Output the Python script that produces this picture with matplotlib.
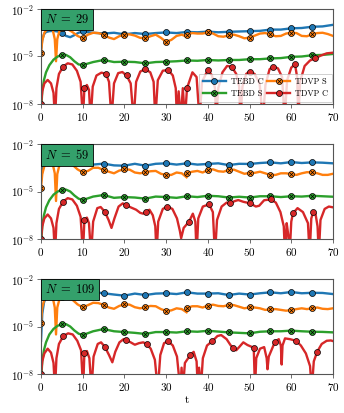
import matplotlib
matplotlib.use("Agg")
import matplotlib.pyplot as plt
import matplotlib.transforms as mtransforms
from matplotlib.lines import Line2D
from matplotlib.ticker import NullLocator
import numpy as np

plt.rcParams["font.family"] = "serif"
plt.rcParams["font.serif"] = ["cmr10"]
plt.rcParams["mathtext.fontset"] = "cm"
plt.rcParams["axes.formatter.use_mathtext"] = True

sizes = [29, 59, 109]

# log10 of the error
t_smooth = [0, 0.3, 0.7, 1.2, 2, 3, 4, 5, 6, 7, 8, 9, 10,
            12.5, 15, 17.5, 20, 22.5, 25, 27.5, 30, 32.5, 35, 37.5, 40,
            42.5, 45, 47.5, 50, 52.5, 55, 57.5, 60, 62.5, 65, 67.5, 70]

tebd_c_29 = [-4.6, -3.95, -3.6, -3.45, -3.4, -3.38, -3.42, -3.5, -3.7, -3.78, -3.65, -3.5, -3.42,
             -3.5, -3.55, -3.5, -3.6, -3.52, -3.58, -3.52, -3.48, -3.52, -3.45, -3.47, -3.43,
             -3.47, -3.44, -3.42, -3.4, -3.38, -3.3, -3.3, -3.22, -3.2, -3.12, -3.1, -3.0]
tebd_c_59 = [-4.3, -3.7, -3.35, -3.15, -3.05, -3.0, -3.05, -3.1, -3.05, -3.2, -3.3, -3.2, -3.12,
             -3.3, -3.24, -3.35, -3.37, -3.25, -3.37, -3.25, -3.22, -3.3, -3.22, -3.3, -3.26,
             -3.22, -3.33, -3.25, -3.26, -3.2, -3.16, -3.22, -3.14, -3.2, -3.16, -3.18, -3.22]
tebd_c_109 = [-5.9, -4.2, -3.5, -3.1, -2.9, -2.85, -2.85, -2.85, -2.9, -2.95, -2.9, -2.85, -2.85,
              -2.82, -2.9, -2.98, -3.05, -2.92, -3.01, -2.92, -2.9, -2.95, -2.84, -2.92, -2.92,
              -2.9, -3.01, -2.92, -2.98, -2.9, -2.84, -2.9, -2.82, -2.9, -2.87, -2.88, -2.95]

tebd_s_29 = [-8.5, -7.2, -6.5, -6.0, -5.55, -5.2, -5.0, -4.9, -4.9, -5.05, -5.3, -5.5, -5.54,
             -5.35, -5.22, -5.35, -5.33, -5.35, -5.43, -5.35, -5.33, -5.3, -5.25, -5.27, -5.22,
             -5.25, -5.22, -5.22, -5.17, -5.17, -5.12, -5.1, -5.02, -5.0, -4.92, -4.9, -4.84]
tebd_s_59 = [-8.5, -7.2, -6.5, -6.0, -5.55, -5.2, -5.0, -4.9, -4.88, -5.0, -5.25, -5.45, -5.54,
             -5.32, -5.22, -5.4, -5.35, -5.38, -5.45, -5.32, -5.35, -5.4, -5.3, -5.35, -5.27,
             -5.3, -5.38, -5.33, -5.38, -5.3, -5.3, -5.35, -5.3, -5.32, -5.27, -5.3, -5.33]
tebd_s_109 = [-8.5, -7.2, -6.5, -6.0, -5.5, -5.15, -4.95, -4.86, -4.85, -5.0, -5.25, -5.45, -5.54,
              -5.3, -5.16, -5.3, -5.35, -5.4, -5.47, -5.35, -5.35, -5.38, -5.3, -5.33, -5.27,
              -5.32, -5.37, -5.4, -5.43, -5.33, -5.3, -5.3, -5.26, -5.3, -5.33, -5.34, -5.37]

t_tdvp_s = [0, 0.3, 0.8, 1.5, 2.2, 2.8, 3.3, 3.6, 3.9, 4.4,
            5, 6.25, 7.5, 8.75, 10, 11.25, 12.5, 13.75, 15, 16.25, 17.5, 18.75,
            20, 21.25, 22.5, 23.75, 25, 26.25, 27.5, 28.75, 30, 31.25, 32.5, 33.75,
            34.9, 34.95,
            35, 36.25, 37.5, 38.75, 40, 41.25, 42.5, 43.75, 45, 46.25, 47.5, 48.75,
            50, 51.25, 52.5, 53.75, 55, 56.25, 57.5, 58.75, 60, 61.25, 62.5, 63.75,
            65, 66.25, 67.5, 68.75, 70]
nan = float("nan")
tdvp_s_29 = [-4.8, -4.0, -3.5, -3.25, -3.15, -3.3, -3.9, -5.3, -3.9, -3.4,
             -3.22, -3.25, -3.45, -3.7, -3.85, -3.62, -3.5, -3.52, -3.62, -3.8, -3.9, -3.72,
             -3.62, -3.6, -3.68, -3.82, -3.85, -3.72, -3.62, -3.82, -4.08, -3.95, -3.7, -3.62,
             -3.75, nan,
             -3.62, -3.52, -3.55, -3.55, -3.48, -3.55, -3.72, -3.75, -3.66, -3.62, -3.72, -3.85,
             -3.81, -3.68, -3.55, -3.52, -3.6, -3.72, -3.7, -3.55, -3.5, -3.52, -3.7, -3.72,
             -3.6, -3.52, -3.5, -3.58, -3.7]
tdvp_s_59 = [-4.76, -3.9, -3.4, -3.2, -3.1, -3.25, -3.85, -5.6, -3.9, -3.35,
             -3.15, -3.1, -3.3, -3.6, -3.79, -3.7, -3.5, -3.5, -3.64, -3.75, -3.85, -3.68,
             -3.6, -3.62, -3.8, -3.85, -3.79, -3.72, -3.7, -3.88, -3.96, -3.95, -3.8, -3.85,
             -4.1, nan,
             -3.85, -3.75, -3.7, -3.8, -3.64, -3.6, -3.72, -3.75, -3.64, -3.62, -3.75, -3.88,
             -3.83, -3.82, -3.75, -3.85, -3.96, -3.95, -3.85, -3.85, -3.9, -3.95, -3.85, -3.78,
             -3.79, -3.85, -3.95, -3.95, -3.88]
tdvp_s_109 = [-4.76, -3.8, -3.3, -3.1, -3.0, -3.15, -3.8, -5.5, -3.8, -3.3,
              -3.11, -3.1, -3.3, -3.6, -3.79, -3.65, -3.5, -3.52, -3.64, -3.8, -3.88, -3.7,
              -3.6, -3.62, -3.78, -3.85, -3.79, -3.7, -3.72, -3.9, -4.02, -3.98, -3.85, -3.9,
              -4.1, nan,
              -3.83, -3.72, -3.72, -3.8, -3.68, -3.62, -3.7, -3.72, -3.64, -3.65, -3.75, -3.85,
              -3.79, -3.8, -3.85, -3.95, -3.92, -3.9, -3.95, -4.0, -3.96, -3.9, -3.85, -3.9,
              -3.85, -3.8, -3.88, -3.9, -3.85]

# TDVP C: (t, log10 error); -9 means the curve drops below the axis
tdvp_c_29 = [(0, -8.0), (0.3, -7.2), (0.8, -6.7), (1.6, -6.48), (2.4, -6.7), (3.0, -7.3),
             (3.35, -9), (3.7, -7.0), (4.3, -6.1), (5.3, -5.64), (6.4, -5.43), (7.5, -5.5),
             (8.6, -5.9), (9.5, -6.6), (10.05, -9), (10.4, -7.0), (11.0, -6.8), (11.5, -7.1),
             (11.9, -9), (12.4, -6.9), (13.3, -6.2), (14.5, -6.02), (15.6, -6.1), (16.3, -6.6),
             (16.9, -9), (17.5, -6.7), (18.5, -6.05), (19.5, -5.98), (20.5, -6.2), (21.5, -6.7),
             (22.2, -9), (22.8, -6.6), (23.8, -5.95), (25.0, -5.8), (26.2, -6.0), (27.0, -6.6),
             (27.4, -9), (28.0, -6.5), (29.2, -5.9), (30.5, -5.85), (31.6, -6.2), (32.3, -7.0),
             (32.6, -9), (33.0, -7.2), (33.5, -9), (34.0, -7.0), (34.5, -9), (35.0, -7.0),
             (36.3, -6.0), (37.3, -6.3), (38.0, -9), (38.6, -6.6), (40.0, -5.85), (41.0, -6.2),
             (41.7, -7.0), (42.0, -9), (42.5, -7.0), (43.5, -6.0), (44.6, -5.6), (45.7, -5.64),
             (46.8, -6.1), (47.5, -6.9), (47.8, -9), (48.3, -6.9), (49.2, -6.1), (50.0, -5.95),
             (51.2, -6.1), (52.4, -6.7), (53.2, -9), (53.8, -6.8), (54.8, -5.8), (55.7, -5.64),
             (56.8, -5.75), (57.8, -6.3), (58.4, -9), (59.0, -6.5), (60.0, -5.7), (60.9, -5.5),
             (61.4, -6.3), (61.7, -9), (62.1, -6.6), (63.2, -5.6), (64.5, -5.25), (65.7, -5.12),
             (67.0, -4.95), (68.5, -4.8), (70.0, -4.76)]
tdvp_c_59 = [(0, -8.0), (0.3, -7.2), (0.8, -6.7), (1.6, -6.45), (2.4, -6.7), (3.0, -7.3),
             (3.35, -9), (3.7, -7.0), (4.3, -6.1), (5.3, -5.64), (6.4, -5.42), (7.5, -5.5),
             (8.6, -5.9), (9.5, -6.6), (10.05, -9), (10.4, -6.8), (11.0, -6.65), (11.5, -7.0),
             (12.0, -9), (12.5, -6.9), (13.5, -6.05), (14.3, -5.98), (15.3, -6.28), (16.2, -6.8),
             (16.9, -7.3), (17.6, -6.7), (18.6, -5.95), (19.6, -5.75), (20.3, -5.85), (21.5, -6.0),
             (22.8, -6.15), (23.8, -6.35), (24.5, -6.4), (25.1, -6.3), (26.0, -6.15), (26.8, -6.5),
             (27.4, -7.2), (27.7, -9), (28.1, -6.9), (29.2, -6.1), (30.3, -5.96), (31.5, -6.1),
             (32.6, -6.7), (33.3, -7.5), (33.6, -7.95), (34.2, -7.3), (35.5, -6.9), (36.4, -6.4),
             (37.0, -6.9), (37.3, -9), (37.7, -6.7), (38.8, -5.95), (40.3, -5.81), (41.2, -6.3),
             (41.7, -9), (42.2, -6.8), (43.3, -5.95), (44.5, -5.7), (45.2, -5.75), (46.5, -5.6),
             (47.3, -5.54), (48.5, -5.65), (50.2, -5.75), (51.5, -5.95), (52.3, -5.9), (53.5, -5.55),
             (55.1, -5.5), (56.3, -5.7), (57.4, -6.3), (58.2, -7.2), (58.5, -9), (58.9, -7.0),
             (59.3, -7.8), (59.6, -9), (60.0, -6.9), (60.4, -6.38), (61.5, -6.05), (62.8, -6.3),
             (64.0, -7.0), (64.4, -9), (64.8, -6.7), (65.3, -6.28), (65.8, -6.4), (66.3, -7.2),
             (66.6, -9), (67.0, -6.8), (68.0, -6.1), (69.0, -5.95), (70.0, -6.0)]
tdvp_c_109 = [(0, -8.0), (0.3, -7.2), (0.8, -6.7), (1.6, -6.4), (2.4, -6.65), (3.0, -7.3),
              (3.35, -9), (3.7, -7.0), (4.3, -6.1), (5.35, -5.6), (6.5, -5.43), (7.6, -5.5),
              (8.7, -5.9), (9.6, -6.5), (10.1, -9), (10.4, -6.66), (11.0, -6.55), (11.6, -7.0),
              (12.1, -9), (12.6, -6.9), (13.6, -6.1), (14.4, -6.0), (15.3, -6.28), (16.3, -6.8),
              (17.1, -7.26), (17.8, -6.6), (18.8, -6.0), (19.8, -5.8), (20.3, -5.85), (21.5, -6.0),
              (22.5, -6.15), (23.5, -6.05), (24.5, -6.0), (25.3, -6.1), (26.3, -6.4), (27.3, -7.1),
              (28.0, -9), (28.6, -6.8), (29.5, -6.05), (30.5, -5.93), (31.6, -6.2), (32.6, -6.9),
              (33.4, -9), (33.7, -7.6), (34.0, -9), (34.5, -7.3), (35.8, -6.8), (36.6, -6.6),
              (37.3, -7.2), (37.6, -9), (37.9, -7.6), (38.3, -9), (38.8, -7.0), (39.8, -6.2),
              (41.1, -5.92), (42.3, -5.6), (43.2, -5.54), (44.5, -5.8), (45.5, -6.2), (46.1, -6.34),
              (46.8, -6.5), (47.5, -6.3), (48.5, -6.0), (49.5, -6.17), (51.0, -6.34), (51.3, -9),
              (51.6, -7.0), (52.5, -6.4), (53.5, -6.3), (54.1, -7.0), (54.3, -7.7), (54.6, -6.9),
              (56.1, -5.96), (57.0, -5.8), (57.5, -6.2), (57.7, -7.4), (57.9, -6.2), (58.5, -5.75),
              (59.7, -5.8), (61.1, -5.9), (62.3, -6.2), (63.5, -6.7), (64.5, -7.5), (64.9, -9),
              (65.4, -7.2), (66.2, -6.6), (67.3, -6.1), (68.5, -5.9), (69.5, -5.88), (70.0, -5.92)]

marks_tebd = [5, 10, 15, 20, 25, 30, 35, 40, 45, 50, 55, 60, 65]
marks_tdvp_s = [0, 5, 10, 15, 20, 25, 30, 35, 40, 45, 50, 55, 60, 65]
marks_tdvp_c_29 = [0, 5.3, 10.4, 15.6, 20.5, 25.0, 30.5, 35.0, 40.0, 45.7, 50.0, 55.7, 60.9, 65.7]
marks_tdvp_c_59 = [0, 5.3, 10.4, 15.3, 20.3, 25.1, 30.3, 35.5, 40.3, 45.2, 50.2, 55.1, 60.4, 65.3]
marks_tdvp_c_109 = [0, 5.35, 10.4, 15.3, 20.3, 25.3, 30.5, 35.8, 41.1, 46.1, 51.0, 56.1, 61.1, 66.2]

c_blue, c_orange, c_green, c_red = "#1f77b4", "#ff7f0e", "#2ca02c", "#d62728"
box_green = "#34a06b"
frame_col = "#555555"


def draw(ax, t, v, color, marks, cross=False):
    t = np.asarray(t, dtype=float)
    y = 10.0 ** np.asarray(v, dtype=float)
    ax.plot(t, y, color=color, lw=1.7, solid_joinstyle="round")
    sel = np.isin(t, marks)
    ax.plot(t[sel], y[sel], ls="none", marker="o", ms=4.3, mfc=color,
            mec="black", mew=0.5)
    if cross:
        ax.plot(t[sel], y[sel], ls="none", marker="x", ms=2.6, mec="black", mew=0.5)


def handle(color, cross=False):
    line = Line2D([], [], color=color, lw=1.7, marker="o", ms=4.3,
                  mfc=color, mec="black", mew=0.5)
    if cross:
        return (line, Line2D([], [], ls="none", marker="x", ms=2.6, mec="black", mew=0.5))
    return line


fig = plt.figure(figsize=(3.44, 4.13), dpi=100)
bottoms = [0.7482, 0.4213, 0.0944]
panels = [
    (tebd_c_29, tdvp_s_29, tebd_s_29, tdvp_c_29, marks_tdvp_c_29),
    (tebd_c_59, tdvp_s_59, tebd_s_59, tdvp_c_59, marks_tdvp_c_59),
    (tebd_c_109, tdvp_s_109, tebd_s_109, tdvp_c_109, marks_tdvp_c_109),
]

for i, (n, b, data) in enumerate(zip(sizes, bottoms, panels)):
    blue, orange, green, red, red_marks = data
    ax = fig.add_axes([0.1192, b, 0.8488, 0.2300])
    draw(ax, t_smooth, blue, c_blue, marks_tebd)
    draw(ax, t_tdvp_s, orange, c_orange, marks_tdvp_s, cross=True)
    draw(ax, t_smooth, green, c_green, marks_tebd, cross=True)
    rt, rv = zip(*red)
    draw(ax, rt, rv, c_red, red_marks)

    ax.set_yscale("log")
    ax.set_ylim(1e-8, 1e-2)
    ax.set_xlim(0, 70)
    ax.set_yticks([1e-8, 1e-5, 1e-2])
    ax.yaxis.set_minor_locator(NullLocator())
    ax.set_xticks(range(0, 71, 10))
    ax.tick_params(direction="out", length=3, width=0.6, color=frame_col,
                   labelsize=8, pad=2)
    for sp in ax.spines.values():
        sp.set_color(frame_col)
        sp.set_linewidth(0.8)

    pad = 0.3 * 9
    trans = mtransforms.offset_copy(ax.transAxes, fig=fig, x=pad, y=-pad, units="points")
    ax.text(0, 1, r"$N \;=\; %d$" % n, transform=trans, ha="left", va="top", fontsize=9,
            bbox=dict(boxstyle="square,pad=0.3", fc=box_green, ec="black", lw=0.6),
            zorder=10)

    if i == 0:
        leg = ax.legend([handle(c_blue), handle(c_green, True),
                         handle(c_orange, True), handle(c_red)],
                        ["TEBD C", "TEBD S", "TDVP S", "TDVP C"],
                        ncol=2, loc="lower right", bbox_to_anchor=(0.997, 0.024),
                        borderaxespad=0, fontsize=6, handlelength=2.75,
                        columnspacing=0.5, handletextpad=0.6, borderpad=0.45,
                        labelspacing=0.45, fancybox=False,
                        framealpha=0.8, edgecolor="#bbbbbb")
        leg.get_frame().set_linewidth(0.6)

    if i == 2:
        ax.set_xlabel("t", fontsize=8, labelpad=2)

fig.savefig("out.png", dpi=100)
